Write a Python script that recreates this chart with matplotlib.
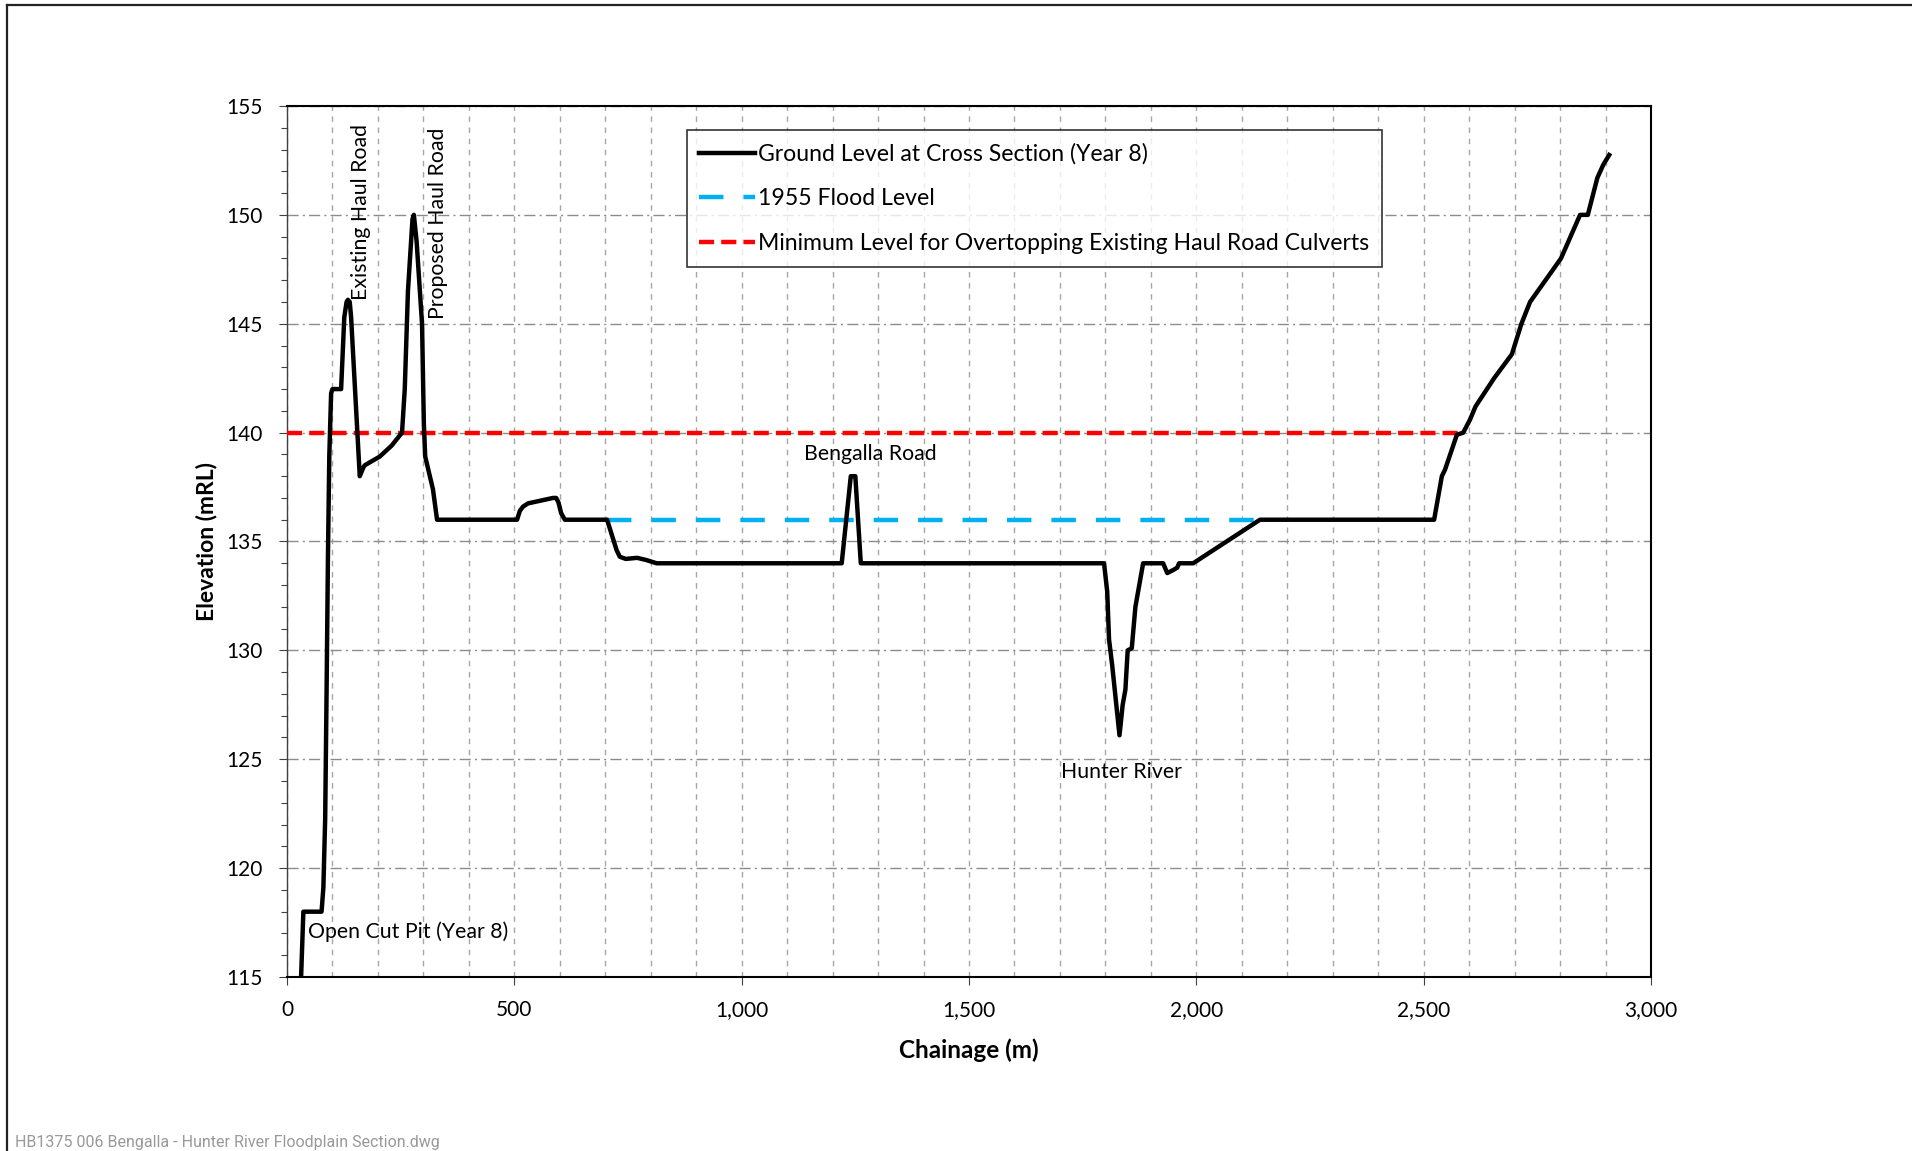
import matplotlib
matplotlib.use('Agg')
import matplotlib.pyplot as plt
from matplotlib.lines import Line2D
from matplotlib.ticker import MultipleLocator, FuncFormatter

plt.rcParams['font.family'] = ['Lato', 'DejaVu Sans']

# ground profile (chainage m, elevation mRL)
chainage = [31, 36, 76, 80, 84, 87, 90, 93, 97, 100, 119, 126, 131, 134, 138, 141, 160,
            168, 171, 204, 230, 253, 259, 266, 276, 279, 285, 297, 301, 304, 321, 330,
            506, 512, 519, 530, 541, 563, 585, 592, 597, 603, 611, 704, 716, 725, 732,
            745, 770, 790, 813, 1220, 1240, 1250, 1262, 1797, 1804, 1808, 1815, 1831,
            1838, 1844, 1849, 1858, 1866, 1883, 1927, 1936, 1950, 1958, 1962, 1993,
            2140, 2523, 2540, 2547, 2573, 2587, 2602, 2614, 2655, 2694, 2715, 2734,
            2802, 2844, 2861, 2882, 2895, 2908]
ground = [115, 118, 118, 119.1, 122.3, 128, 134.2, 138.9, 141.8, 142, 142, 145.3, 146,
          146.1, 146, 145.3, 138.0, 138.4, 138.5, 138.9, 139.4, 140.0, 142, 146.5, 149.8,
          150, 148.8, 145, 140.4, 138.9, 137.4, 136.0, 136.0, 136.4, 136.6, 136.75, 136.8,
          136.9, 137.0, 137.0, 136.8, 136.3, 136.0, 136.0, 135.2, 134.6, 134.3, 134.2,
          134.25, 134.15, 134.0, 134.0, 138, 138, 134, 134, 132.7, 130.5, 129.3, 126.1,
          127.5, 128.2, 130, 130.1, 132, 134, 134, 133.55, 133.7, 133.8, 134, 134,
          136, 136, 138.0, 138.3, 139.9, 140.0, 140.6, 141.2, 142.5, 143.6, 145, 146.0,
          148.0, 150.0, 150.0, 151.7, 152.3, 152.75]

flood_x = [704, 2140]
flood_y = [136, 136]
overtop_x = [0, 2580]
overtop_y = [140, 140]

labels = ['Ground Level at Cross Section (Year 8)', '1955 Flood Level',
          'Minimum Level for Overtopping Existing Haul Road Culverts']

fig = plt.figure(figsize=(19.12, 11.51), dpi=100)
ax = fig.add_axes([287 / 1912, 1 - 977 / 1151, 1364 / 1912, 871 / 1151])

l1, = ax.plot(chainage, ground, color='black', lw=3.2, solid_joinstyle='round', zorder=5)
l2, = ax.plot(flood_x, flood_y, color='#00B0F0', lw=3.2, dashes=(5.5, 4.5), zorder=4)
l3, = ax.plot(overtop_x, overtop_y, color='#FF0000', lw=3.2, dashes=(3.4, 1.6), zorder=4)

ax.set_xlim(0, 3000)
ax.set_ylim(115, 155)
ax.xaxis.set_major_locator(MultipleLocator(500))
ax.xaxis.set_minor_locator(MultipleLocator(100))
ax.yaxis.set_major_locator(MultipleLocator(5))
ax.yaxis.set_minor_locator(MultipleLocator(1))
ax.xaxis.set_major_formatter(FuncFormatter(lambda v, p: f'{int(v):,}'))

ax.xaxis.grid(True, which='both', color='#A6A6A6', lw=1.0, dashes=(4, 4))
ax.yaxis.grid(True, which='major', color='#8C8C8C', lw=1.0, dashes=(8, 3, 1.5, 3))
ax.set_axisbelow(True)

ax.tick_params(axis='both', which='major', labelsize=15, direction='out', length=5.5,
               width=0.8, colors='#404040', labelcolor='black')
ax.tick_params(axis='y', which='major', pad=12)
ax.tick_params(axis='x', which='major', pad=11)
ax.tick_params(axis='y', which='minor', direction='out', length=4, width=0.8, colors='#404040')
ax.tick_params(axis='x', which='minor', length=0)

for s in ['top', 'right', 'bottom']:
    ax.spines[s].set_linewidth(1.5)
    ax.spines[s].set_color('black')
ax.spines['left'].set_linewidth(1.0)
ax.spines['left'].set_color('#404040')

ax.set_xlabel('Chainage (m)', fontsize=17.5, fontweight='bold')
ax.set_ylabel('Elevation (mRL)', fontsize=16.5, fontweight='bold')
ax.xaxis.set_label_coords(0.5, -0.0706)
ax.yaxis.set_label_coords(-0.051, 0.5)

# annotations
ax.text(162, 146.1, 'Existing Haul Road', rotation=90, ha='center', va='bottom', fontsize=15.3)
ax.text(332, 145.2, 'Proposed Haul Road', rotation=90, ha='center', va='bottom', fontsize=15.3)
ax.text(1284, 139.0, 'Bengalla Road', ha='center', va='center', fontsize=15.3)
ax.text(1836, 124.4, 'Hunter River', ha='center', va='center', fontsize=15.3)
ax.text(46, 117.1, 'Open Cut Pit (Year 8)', ha='left', va='center', fontsize=15.3)

leg = ax.legend([l1, l2, l3], labels, loc='upper left', bbox_to_anchor=(0.293, 0.972),
                fontsize=16.6, frameon=True, fancybox=False, handlelength=2.4,
                handletextpad=0.15, labelspacing=1.03, borderpad=0.55, borderaxespad=0)
leg.get_frame().set_edgecolor('black')
leg.get_frame().set_linewidth(1.2)
leg.set_zorder(10)

# page frame and file name
fig.add_artist(Line2D([7 / 1912, 1], [1 - 5 / 1151, 1 - 5 / 1151], color='#222222', lw=1.6))
fig.add_artist(Line2D([7 / 1912, 7 / 1912], [0, 1 - 5 / 1151], color='#222222', lw=1.6))
fig.text(15 / 1912, 1 - 1142 / 1151, 'HB1375 006 Bengalla - Hunter River Floodplain Section.dwg',
         fontsize=11.5, color='#999999', family=['Roboto', 'DejaVu Sans'], va='center', ha='left')

fig.savefig('out.png', dpi=100)
